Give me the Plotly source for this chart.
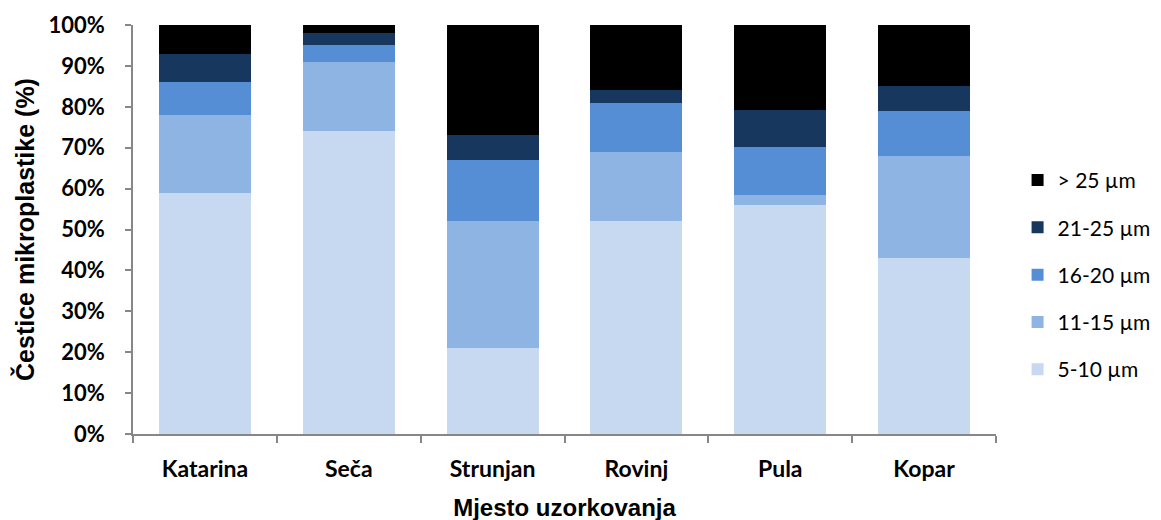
import plotly.graph_objects as go

categories = ["Katarina", "Seča", "Strunjan", "Rovinj", "Pula", "Kopar"]
series_names = ["5-10 µm", "11-15 µm", "16-20 µm", "21-25 µm", "> 25 µm"]
s_5_10 = [59, 74, 21, 52, 56, 43]
s_11_15 = [19, 17, 31, 17, 2.5, 25]
s_16_20 = [8, 4, 15, 12, 11.7, 11]
s_21_25 = [7, 3, 6, 3, 9, 6]
s_gt25 = [7, 2, 27, 16, 20.8, 15]
series_values = [s_5_10, s_11_15, s_16_20, s_21_25, s_gt25]
colors = ["#C6D9F1", "#8EB4E3", "#558ED5", "#17375E", "#000000"]
y_ticks = [0, 10, 20, 30, 40, 50, 60, 70, 80, 90, 100]
y_tick_labels = [f"{v}%" for v in y_ticks]

fig = go.Figure()
n = len(series_names)
for i, (name, vals, col) in enumerate(zip(series_names, series_values, colors)):
    fig.add_trace(go.Bar(
        x=categories, y=vals, name=name, legendgroup=f"g{i}",
        legendrank=n - i,
        marker=dict(color=col, line=dict(width=0)),
    ))

ytick_font = dict(family="Lato, Carlito, Calibri, sans-serif", size=22, color="#000000", weight="bold")
xtick_font = dict(family="Lato, Carlito, Calibri, sans-serif", size=23, color="#000000", weight="bold")
xtitle_font = dict(family="'Liberation Sans', Arial, sans-serif", size=24, color="#000000", weight="bold")
ytitle_font = dict(family="'Liberation Sans', Arial, sans-serif", size=25, color="#000000", weight="bold")

fig.update_layout(
    barmode="stack",
    bargap=0.36,
    width=1161, height=520,
    margin=dict(l=125, r=173, t=17, b=94, autoexpand=False),
    paper_bgcolor="white", plot_bgcolor="white",
    showlegend=True,
    legend=dict(
        traceorder="grouped",
        x=1.025, xanchor="left", y=0.389, yanchor="middle",
        font=dict(family="Lato, Carlito, Calibri, sans-serif", size=21, color="#000000"),
        itemsizing="constant",
        tracegroupgap=17,
        itemwidth=30,
    ),
    xaxis=dict(
        automargin=False,
        showline=True, linecolor="#878787", linewidth=1.5,
        ticks="outside", ticklen=7, tickcolor="#878787", tickwidth=1.5,
        tickson="boundaries",
        tickfont=xtick_font,
        ticklabelstandoff=14,
        title=dict(text="Mjesto uzorkovanja", font=xtitle_font, standoff=18),
        showgrid=False,
    ),
    yaxis=dict(
        automargin=False,
        range=[0, 100],
        tickvals=y_ticks, ticktext=y_tick_labels,
        showline=True, linecolor="#878787", linewidth=1.5,
        ticks="outside", ticklen=6, tickcolor="#878787", tickwidth=1.5,
        tickfont=ytick_font,
        ticklabelstandoff=16,
        title=dict(text="Čestice mikroplastike (%)", font=ytitle_font, standoff=7),
        showgrid=False, zeroline=False,
    ),
)

fig.write_html("out.html")
